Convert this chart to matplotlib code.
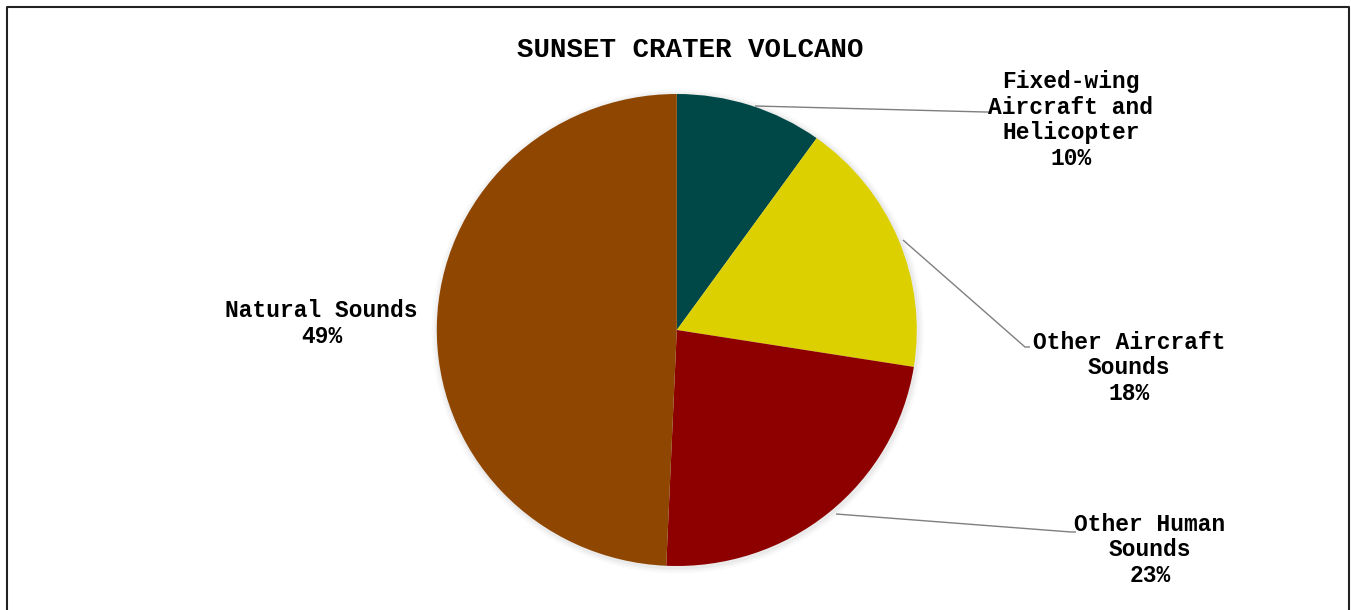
import matplotlib
matplotlib.use("Agg")
import matplotlib.pyplot as plt
from matplotlib.lines import Line2D
from matplotlib.patches import Ellipse

title = "SUNSET CRATER VOLCANO"
categories = ["Fixed-wing\nAircraft and\nHelicopter", "Other Aircraft\nSounds",
              "Other Human\nSounds", "Natural Sounds"]
values = [9.9, 17.6, 23.2, 49.3]
labels_pct = [10, 18, 23, 49]
colors = ["#004848", "#DDD000", "#8E0000", "#8E4600"]

W, H = 1351, 610
fig = plt.figure(figsize=(W / 100, H / 100), dpi=100)

# pie axes: unit radius maps to rx x ry pixels
cx, cy, rx, ry = 676.8, 330.0, 240.0, 236.0
ax = fig.add_axes([0, 0, 1, 1])
# soft shadow
for k, a in [(6, 0.03), (4, 0.04), (2, 0.06)]:
    ax.add_patch(Ellipse((0.004, -0.006), 2 * (1 + k / rx), 2 * (1 + k / ry),
                         facecolor="#606060", edgecolor="none", alpha=a))
ax.pie(values, colors=colors, startangle=90, counterclock=False,
       radius=1, frame=True, wedgeprops=dict(linewidth=0))
ax.set_aspect("auto")
ax.set_xlim(-cx / rx, (W - cx) / rx)
ax.set_ylim(-(H - cy) / ry, cy / ry)
ax.axis("off")

# overlay axes in pixel coordinates (y downward)
ov = fig.add_axes([0, 0, 1, 1])
ov.set_xlim(0, W)
ov.set_ylim(H, 0)
ov.axis("off")
ov.patch.set_alpha(0)

font = dict(family="Liberation Mono", weight="bold", color="black")

ov.text(690, 50, title, ha="center", va="center", fontsize=19.8, **font)

label_pos = [(1071, 120), (1129, 368), (1150, 550), (321.5, 323.5)]
leaders = [((755, 106), (985, 112)),
           ((903, 240), (1025, 347)),
           ((836, 514), (1071, 532)),
           None]

for cat, pct, (lx, ly), ld in zip(categories, labels_pct, label_pos, leaders):
    ov.text(lx, ly, f"{cat}\n{pct}%", ha="center", va="center",
            fontsize=16.5, linespacing=1.14, **font)
    if ld is not None:
        (x0, y0), (x1, y1) = ld
        ov.plot([x0, x1, x1 + 5], [y0, y1, y1], color="#7f7f7f",
                lw=1.0, solid_capstyle="butt")

# outer border (bottom edge cut off)
fig.add_artist(Line2D([6.5 / W, 6.5 / W, 1349 / W, 1349 / W],
                      [0, 1 - 6.5 / H, 1 - 6.5 / H, 0],
                      transform=fig.transFigure, color="#222222", lw=1.5))

fig.savefig("out.png", dpi=100)
